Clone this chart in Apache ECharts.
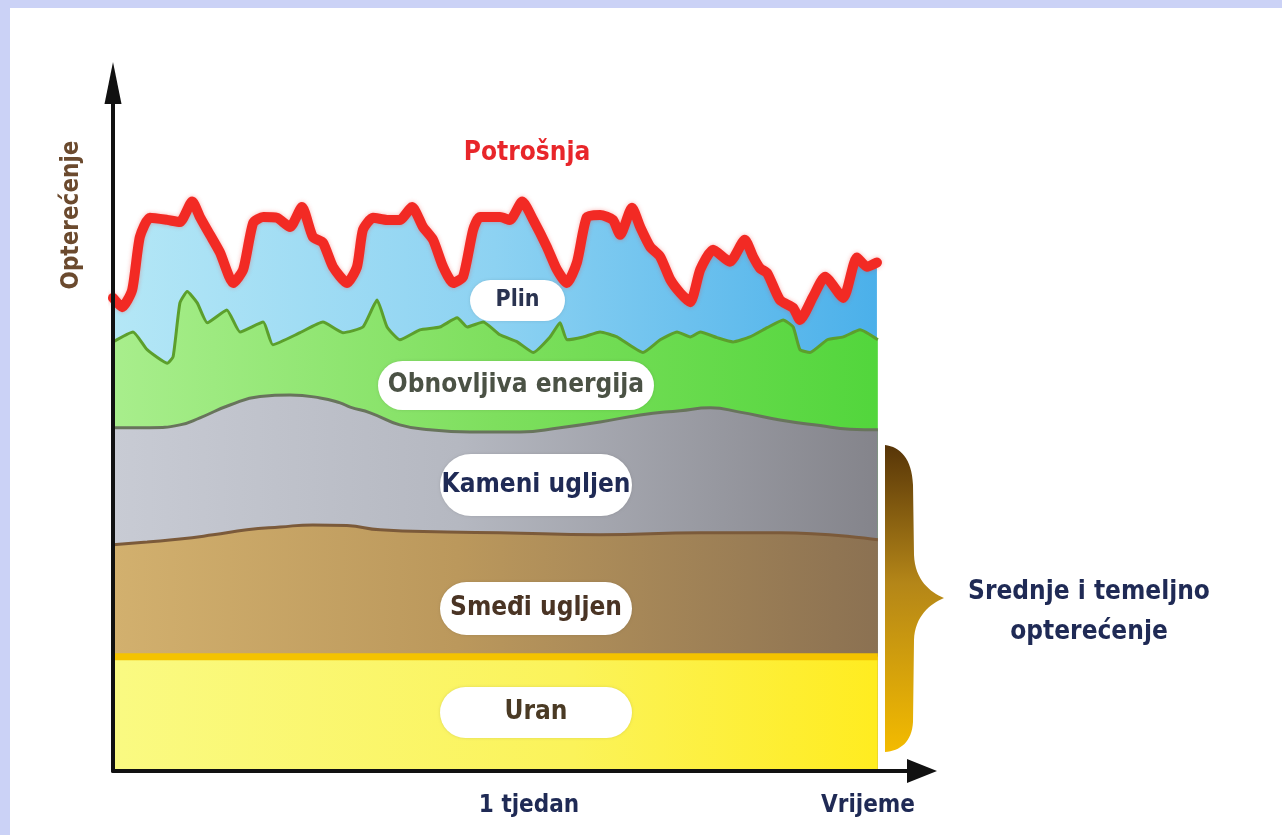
<!DOCTYPE html>
<html>
<head>
<meta charset="utf-8">
<script src="https://cdn.jsdelivr.net/npm/echarts@6/dist/echarts.min.js"></script>
<style>
  html, body { margin: 0; padding: 0; background: #ffffff; }
  #chart { width: 1282px; height: 835px; }
</style>
</head>
<body>
<div id="chart"></div>
<script>
// Load over one week (hours 0..168), values are cumulative band tops in GW

// Potrošnja (total demand, top of the gas band)
const potrosnjaHours = [0, 2.0, 4.2, 5.9, 8.1, 11.9, 14.7, 17.4, 19.1, 21.3, 23.5, 26.4, 28.6, 30.8, 33.0, 36.0, 38.9, 41.5, 43.9, 46.1, 48.3, 51.4, 53.6, 54.9, 57.1, 60.2, 63.0, 65.7, 68.1, 70.3, 72.5, 74.7, 76.9, 79.1, 80.6, 85.0, 87.2, 89.9, 92.3, 95.3, 97.5, 99.7, 101.9, 104.1, 107.0, 109.8, 111.4, 114.0, 115.8, 118.0, 120.2, 122.4, 124.6, 126.8, 129.0, 131.8, 135.5, 138.8, 140.6, 142.1, 143.7, 146.5, 149.4, 150.9, 153.8, 156.4, 160.4, 163.4, 165.6, 167.8];
const potrosnja = [66.7, 65.4, 67.8, 75.3, 78.0, 77.7, 77.4, 80.3, 78.1, 75.6, 73.1, 68.8, 70.7, 77.3, 78.1, 78.0, 76.7, 79.5, 75.3, 74.5, 71.1, 68.8, 71.1, 76.3, 78.0, 77.7, 77.7, 79.5, 76.7, 74.9, 71.1, 68.8, 69.7, 76.3, 78.1, 78.1, 77.7, 80.3, 77.7, 73.9, 70.7, 68.8, 71.7, 78.1, 78.4, 77.7, 75.6, 79.4, 76.7, 73.9, 72.5, 69.3, 67.4, 66.1, 70.7, 73.5, 71.8, 74.9, 72.5, 70.9, 70.2, 66.4, 65.3, 63.6, 66.9, 69.7, 66.7, 72.4, 71.1, 71.7];

// Obnovljiva energija (top of the renewables band)
const obnovljivaHours = [0, 4.4, 7.5, 11.9, 13.2, 14.7, 16.3, 18.5, 20.7, 25.0, 27.9, 33.0, 35.1, 41.1, 46.1, 50.5, 54.9, 58.0, 60.2, 63.0, 67.4, 71.8, 75.6, 77.8, 81.3, 85.0, 88.8, 92.3, 96.0, 98.2, 99.7, 103.3, 107.0, 110.7, 116.4, 120.2, 123.9, 126.8, 129.0, 132.7, 136.2, 139.9, 143.7, 147.2, 149.4, 150.9, 153.1, 156.9, 160.4, 164.1, 168.0];
const obnovljivaTop = [60.5, 61.9, 59.4, 57.5, 58.4, 66.0, 67.6, 66.0, 63.2, 65.0, 61.9, 63.3, 60.1, 61.8, 63.3, 61.8, 62.6, 66.4, 62.6, 60.8, 62.2, 62.6, 63.9, 62.6, 63.3, 61.5, 60.5, 59.0, 61.2, 63.2, 60.8, 61.2, 61.9, 61.2, 59.0, 60.8, 61.9, 61.2, 61.9, 61.1, 60.5, 61.2, 62.5, 63.6, 62.6, 59.4, 59.0, 60.8, 61.2, 62.2, 60.8];

// Kameni ugljen (top of the hard coal band)
const kameniHours = [0, 8.1, 14.7, 19.1, 25.7, 32.3, 38.9, 45.5, 49.9, 52.1, 56.5, 63.0, 69.6, 78.4, 89.4, 98.2, 107.0, 115.8, 124.6, 131.2, 137.7, 146.5, 155.3, 161.9, 168.0];
const kameniTop = [48.4, 48.4, 48.8, 49.8, 51.6, 52.8, 53.0, 52.6, 51.9, 51.3, 50.5, 48.8, 48.1, 47.8, 47.8, 48.4, 49.2, 50.2, 50.8, 51.2, 50.6, 49.5, 48.7, 48.2, 48.1];

// Smeđi ugljen (top of the lignite band)
const smediHours = [0, 7.5, 14.7, 22.0, 29.4, 36.7, 43.9, 51.4, 58.7, 73.4, 85.0, 107.0, 129.0, 146.5, 168.0];
const smediTop = [31.9, 32.3, 32.7, 33.3, 34.0, 34.4, 34.7, 34.6, 34.0, 33.7, 33.6, 33.3, 33.6, 33.6, 32.6];

// Uran (nuclear base band)
const uranHours = [0, 168];
const uranTop = [16.1, 16.1];

const bandLabels = ['Plin', 'Obnovljiva energija', 'Kameni ugljen', 'Smeđi ugljen', 'Uran'];

const pairs = (xs, ys) => xs.map((x, i) => [x, ys[i]]);
const hGrad = stops => new echarts.graphic.LinearGradient(0, 0, 1, 0,
  stops.map(([o, c]) => ({ offset: o, color: c })));

const FONT = "'Liberation Sans Narrow', 'DejaVu Sans Condensed', 'Liberation Sans', sans-serif";
const NAVY = '#1f2a55';

const chart = echarts.init(document.getElementById('chart'));

function pill(x, y, w, h, text, color, size) {
  return [
    {
      type: 'rect', z: 50,
      shape: { x: x, y: y, width: w, height: h, r: h / 2 },
      style: { fill: '#ffffff', shadowBlur: 3, shadowColor: 'rgba(0,0,0,0.12)' }
    },
    {
      type: 'text', z: 51, x: x + w / 2, y: y + h / 2,
      style: { text: text, fill: color, font: 'bold ' + size + 'px ' + FONT, align: 'center', verticalAlign: 'middle' }
    }
  ];
}

function label(x, y, text, color, size, rotation) {
  return {
    type: 'text', z: 60, x: x, y: y, rotation: rotation || 0,
    style: { text: text, fill: color, font: 'bold ' + size + 'px ' + FONT, align: 'center', verticalAlign: 'middle' }
  };
}

// curly brace marking the mid and base load bands
const bracePath = 'M885 445 C900 447 912 458 913 485 L914 555 C915 580 930 592 944 598 ' +
                  'C930 604 915 616 914 640 L913 722 C912 742 900 751 885 752 Z';

const option = {
  animation: false,
  backgroundColor: '#ffffff',
  // axis ends sit half an arrowhead short of the arrow tips
  grid: { left: 113, right: 360, top: 83, bottom: 64, containLabel: false },
  xAxis: {
    type: 'value', min: 0, max: 177.7, z: 20,
    axisLine: { show: true, onZero: false, symbol: ['none', 'triangle'], symbolSize: [24, 30],
      lineStyle: { color: '#111111', width: 4 } },
    axisTick: { show: false }, axisLabel: { show: false }, splitLine: { show: false }
  },
  yAxis: {
    type: 'value', min: 0, max: 97, z: 20,
    axisLine: { show: true, symbol: ['none', 'triangle'], symbolSize: [17, 42],
      lineStyle: { color: '#111111', width: 4 } },
    axisTick: { show: false }, axisLabel: { show: false }, splitLine: { show: false }
  },
  series: [
    {
      name: bandLabels[0], type: 'line', z: 1, symbol: 'none', smooth: 0.2,
      data: pairs(potrosnjaHours, potrosnja),
      lineStyle: { width: 0 },
      areaStyle: { opacity: 1, color: hGrad([[0, '#b4e7f6'], [0.5, '#8dd2f2'], [1, '#4bb0ea']]) }
    },
    {
      name: bandLabels[1], type: 'line', z: 2, symbol: 'none', smooth: 0.15,
      data: pairs(obnovljivaHours, obnovljivaTop),
      lineStyle: { width: 3, color: '#5c9f2c' },
      areaStyle: { opacity: 1, color: hGrad([[0, '#a8ee8c'], [0.5, '#7edf5e'], [1, '#52d63c']]) }
    },
    {
      name: bandLabels[2], type: 'line', z: 3, symbol: 'none', smooth: true,
      data: pairs(kameniHours, kameniTop),
      lineStyle: { width: 3, color: '#68745c' },
      areaStyle: { opacity: 1, color: hGrad([[0, '#c8cbd4'], [0.45, '#b5b8c1'], [1, '#84848b']]) }
    },
    {
      name: bandLabels[3], type: 'line', z: 4, symbol: 'none', smooth: true,
      data: pairs(smediHours, smediTop),
      lineStyle: { width: 3, color: '#7b5a3a' },
      areaStyle: { opacity: 1, color: hGrad([[0, '#d2b06e'], [0.45, '#bb985c'], [1, '#8b7152']]) }
    },
    {
      name: bandLabels[4], type: 'line', z: 5, symbol: 'none',
      data: pairs(uranHours, uranTop),
      lineStyle: { width: 7, color: '#f4c300' },
      areaStyle: { opacity: 1, color: hGrad([[0, '#fafa82'], [0.6, '#fbf35a'], [1, '#ffec20']]) }
    },
    {
      name: 'Potrošnja', type: 'line', z: 10, symbol: 'none', smooth: 0.2,
      data: pairs(potrosnjaHours, potrosnja),
      lineStyle: { width: 10, color: '#f22a24', cap: 'round', join: 'round',
        shadowBlur: 4, shadowColor: 'rgba(242,42,36,0.35)' }
    },
    {
      type: 'custom', coordinateSystem: 'none', z: 40, silent: true,
      data: [[0]],
      renderItem: function () {
        return {
          type: 'path',
          shape: { pathData: bracePath },
          style: {
            fill: new echarts.graphic.LinearGradient(0, 0, 0, 1, [
              { offset: 0, color: '#573508' },
              { offset: 0.45, color: '#b48618' },
              { offset: 1, color: '#f3bb00' }
            ])
          }
        };
      }
    }
  ],
  graphic: [
    // page frame
    { type: 'rect', z: 100, shape: { x: 0, y: 0, width: 1282, height: 8 }, style: { fill: '#cbd2f6' } },
    { type: 'rect', z: 100, shape: { x: 0, y: 0, width: 10, height: 835 }, style: { fill: '#cbd2f6' } },

    label(527, 153, 'Potrošnja', '#e8262a', 26),
    ...pill(470, 280, 95, 41, bandLabels[0], '#2a3350', 23),
    ...pill(378, 361, 276, 49, bandLabels[1], '#4b5245', 26),
    ...pill(440, 454, 192, 62, bandLabels[2], NAVY, 26),
    ...pill(440, 582, 192, 53, bandLabels[3], '#4a3424', 26),
    ...pill(440, 687, 192, 51, bandLabels[4], '#4a3a24', 26),

    label(72, 215, 'Opterećenje', '#6b4a2e', 24, Math.PI / 2),
    label(529, 806, '1 tjedan', NAVY, 24),
    label(868, 806, 'Vrijeme', NAVY, 24),
    label(1089, 592, 'Srednje i temeljno', NAVY, 26),
    label(1089, 632, 'opterećenje', NAVY, 26)
  ]
};

chart.setOption(option);
</script>
</body>
</html>
